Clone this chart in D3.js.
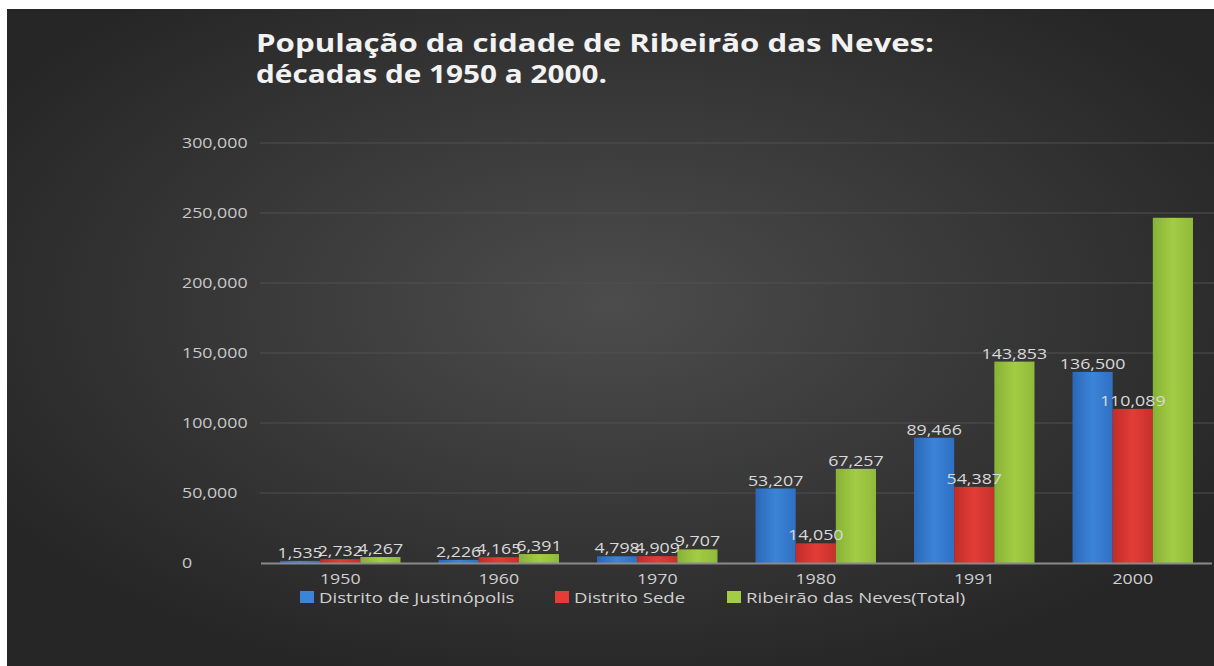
<!DOCTYPE html>
<html>
<head>
<meta charset="utf-8">
<style>
  body { margin: 0; background: #fff; }
  svg { display: block; }
</style>
</head>
<body>
<svg width="1214" height="666"></svg>
<script src="https://cdn.jsdelivr.net/npm/d3@7"></script>
<script>

    // data
    var years = ["1950", "1960", "1970", "1980", "1991", "2000"];
    var justinopolis = [1535, 2226, 4798, 53207, 89466, 136500];
    var sede = [2732, 4165, 4909, 14050, 54387, 110089];
    var total = [4267, 6391, 9707, 67257, 143853, 246589];
    var seriesNames = ["Distrito de Justinópolis", "Distrito Sede", "Ribeirão das Neves(Total)"];
    var yTicks = [0, 50000, 100000, 150000, 200000, 250000, 300000];
    // the 2000 total has no label in the original
    var showLabel = [[1, 1, 1, 1, 1, 1], [1, 1, 1, 1, 1, 1], [1, 1, 1, 1, 1, 0]];

    var svg = d3.select("svg"),
        width = +svg.attr("width"),
        height = +svg.attr("height");

    // the original text is stretched sideways
    var SX = 1.27;
    function place(x, y) { return "translate(" + x + "," + y + ") scale(" + SX + ",1)"; }

    var defs = svg.append("defs");

    // background gradient
    var bg = defs.append("radialGradient")
        .attr("id", "bg")
        .attr("cx", "50%").attr("cy", "45%").attr("r", "60%");
    bg.append("stop").attr("offset", "0%").attr("stop-color", "#4c4c4c");
    bg.append("stop").attr("offset", "100%").attr("stop-color", "#262626");

    // bar gradients
    var barColors = [
        ["#2a68b8", "#3b84d8", "#2f70c2"],
        ["#c22c28", "#e23d37", "#c8302b"],
        ["#86b236", "#a4cc44", "#8fba3a"]
    ];
    barColors.forEach(function(c, i) {
        var g = defs.append("linearGradient")
            .attr("id", "bar" + i)
            .attr("x1", "0%").attr("x2", "100%").attr("y1", "0%").attr("y2", "0%");
        g.append("stop").attr("offset", "0%").attr("stop-color", c[0]);
        g.append("stop").attr("offset", "50%").attr("stop-color", c[1]);
        g.append("stop").attr("offset", "100%").attr("stop-color", c[2]);
    });

    svg.append("rect")
        .attr("x", 7).attr("y", 9)
        .attr("width", width - 7).attr("height", height - 9)
        .attr("fill", "url(#bg)");

    // scales
    var x0 = d3.scaleBand()
        .domain(years)
        .range([261, 1212])
        .paddingInner(0.24)
        .paddingOuter(0.12);

    var x1 = d3.scaleBand()
        .domain([0, 1, 2])
        .range([0, x0.bandwidth()]);

    var y = d3.scaleLinear()
        .domain([0, 300000])
        .range([563, 143]);

    var fmt = d3.format(",");

    // gridlines
    svg.append("g")
        .selectAll("line")
        .data(yTicks.slice(1))
        .enter().append("line")
        .attr("x1", 260).attr("x2", width)
        .attr("y1", function(d) { return y(d); })
        .attr("y2", function(d) { return y(d); })
        .attr("stroke", "#505050")
        .attr("stroke-width", 1);

    // y tick labels
    svg.append("g")
        .selectAll("text")
        .data(yTicks)
        .enter().append("text")
        .attr("transform", function(d) { return place(182, y(d) + 5); })
        .attr("fill", "#c8c8c8")
        .attr("font-family", "'Open Sans', sans-serif")
        .attr("font-size", 14)
        .text(function(d) { return fmt(d); });

    // bars
    var series = [justinopolis, sede, total];

    var groups = svg.append("g")
        .selectAll("g")
        .data(years)
        .enter().append("g")
        .attr("transform", function(d) { return "translate(" + x0(d) + ",0)"; });

    groups.selectAll("rect")
        .data(function(d, i) { return series.map(function(s, k) { return { k: k, v: s[i] }; }); })
        .enter().append("rect")
        .attr("x", function(d) { return x1(d.k); })
        .attr("y", function(d) { return y(d.v); })
        .attr("width", x1.bandwidth())
        .attr("height", function(d) { return y(0) - y(d.v); })
        .attr("fill", function(d) { return "url(#bar" + d.k + ")"; });

    // axis line
    svg.append("line")
        .attr("x1", 261).attr("x2", 1212)
        .attr("y1", y(0) + 0.5).attr("y2", y(0) + 0.5)
        .attr("stroke", "#8a8a8a")
        .attr("stroke-width", 2);

    // data labels
    groups.selectAll("text.lbl")
        .data(function(d, i) {
            return series.map(function(s, k) { return { k: k, v: s[i], show: showLabel[k][i] }; })
                .filter(function(d) { return d.show; });
        })
        .enter().append("text")
        .attr("class", "lbl")
        .attr("transform", function(d) { return place(x1(d.k) + x1.bandwidth() / 2, y(d.v) - 3); })
        .attr("text-anchor", "middle")
        .attr("fill", "#d9d9d9")
        .attr("font-family", "'Open Sans', sans-serif")
        .attr("font-size", 14)
        .text(function(d) { return fmt(d.v); });

    // category labels
    svg.append("g")
        .selectAll("text")
        .data(years)
        .enter().append("text")
        .attr("transform", function(d) { return place(x0(d) + x0.bandwidth() / 2, 584); })
        .attr("text-anchor", "middle")
        .attr("fill", "#d0d0d0")
        .attr("font-family", "'Open Sans', sans-serif")
        .attr("font-size", 14)
        .text(function(d) { return d; });

    // legend
    var legendX = [300, 555, 727];
    var legend = svg.append("g")
        .selectAll("g")
        .data(seriesNames)
        .enter().append("g")
        .attr("transform", function(d, i) { return "translate(" + legendX[i] + ",591)"; });

    legend.append("rect")
        .attr("width", 14).attr("height", 12)
        .attr("fill", function(d, i) { return barColors[i][1]; });

    legend.append("text")
        .attr("transform", "translate(19,12) scale(1.33,1)")
        .attr("fill", "#d0d0d0")
        .attr("font-family", "'Open Sans', sans-serif")
        .attr("font-size", 14)
        .text(function(d) { return d; });

    // title
    var title = svg.append("text")
        .attr("fill", "#f2f2f2")
        .attr("font-family", "'Open Sans', sans-serif")
        .attr("font-weight", "bold")
        .attr("font-size", 25);
    title.append("tspan").attr("x", 256).attr("y", 52)
        .attr("textLength", 678).attr("lengthAdjust", "spacingAndGlyphs")
        .text("População da cidade de Ribeirão das Neves:");
    title.append("tspan").attr("x", 256).attr("y", 83)
        .attr("textLength", 351).attr("lengthAdjust", "spacingAndGlyphs")
        .text("décadas de 1950 a 2000.");

</script>
</body>
</html>
